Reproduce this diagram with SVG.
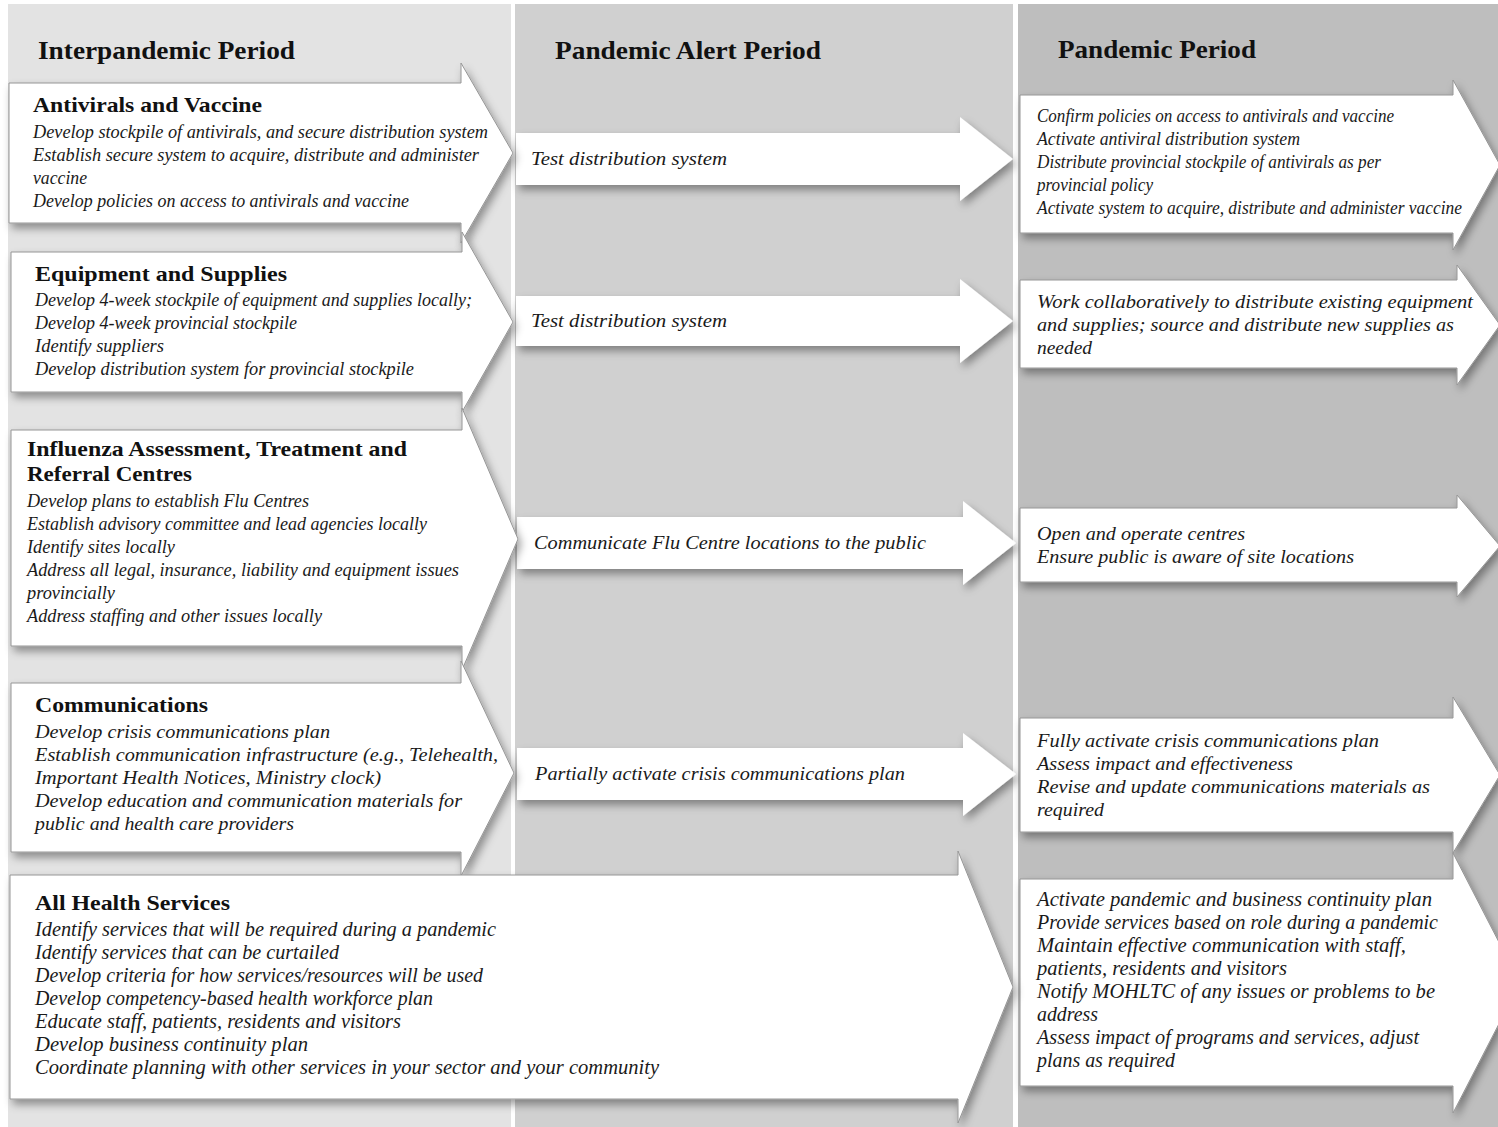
<svg xmlns="http://www.w3.org/2000/svg" width="1498" height="1127" viewBox="0 0 1498 1127">
<defs>
<filter id="sh" x="-10%" y="-20%" width="125%" height="150%">
<feDropShadow dx="3" dy="5" stdDeviation="4" flood-color="#000" flood-opacity="0.38"/>
</filter>
<style>
.col1{fill:#e3e3e3}
.col2{fill:#d0d0d0}
.col3{fill:#bebebe}
.box{fill:#ffffff;stroke:#969696;stroke-width:1;filter:url(#sh)}
.mid{fill:#ffffff;filter:url(#sh)}
.h{font-family:"Liberation Serif",serif;font-weight:bold;font-size:25px;fill:#111}
.t{font-family:"Liberation Serif",serif;font-weight:bold;font-size:21px;fill:#111}
.b{font-family:"Liberation Serif",serif;font-style:italic;font-size:19px;fill:#1a1a1a}
.c{font-family:"Liberation Serif",serif;font-style:italic;font-size:20px;fill:#1a1a1a}
</style>
</defs>
<rect x="0" y="0" width="1498" height="1127" fill="#ffffff"/>
<g id="columns">
<rect class="col1" x="8" y="4" width="503" height="1123"/>
<rect class="col2" x="515" y="4" width="498" height="1123"/>
<rect class="col3" x="1018" y="4" width="480" height="1123"/>
<text class="h" x="38" y="59" textLength="257" lengthAdjust="spacingAndGlyphs">Interpandemic Period</text>
<text class="h" x="555" y="59" textLength="266" lengthAdjust="spacingAndGlyphs">Pandemic Alert Period</text>
<text class="h" x="1058" y="58" textLength="198" lengthAdjust="spacingAndGlyphs">Pandemic Period</text>
</g>

<g id="mid-arrows">
<g id="m1">
<path class="mid" d="M516,133 H960 V117 L1013,159 L960,201 V185 H516 Z"/>
<text class="b" x="531" y="165" textLength="196" lengthAdjust="spacingAndGlyphs">Test distribution system</text>
</g>
<g id="m2">
<path class="mid" d="M516,296 H960 V279 L1013,321 L960,363 V346 H516 Z"/>
<text class="b" x="531" y="327" textLength="196" lengthAdjust="spacingAndGlyphs">Test distribution system</text>
</g>
<g id="m3">
<path class="mid" d="M517,517 H963 V501 L1016,543 L963,585 V569 H517 Z"/>
<text class="b" x="534" y="549" textLength="392" lengthAdjust="spacingAndGlyphs">Communicate Flu Centre locations to the public</text>
</g>
<g id="m4">
<path class="mid" d="M517,748 H963 V733 L1016,774 L963,816 V800 H517 Z"/>
<text class="b" x="535" y="780" textLength="370" lengthAdjust="spacingAndGlyphs">Partially activate crisis communications plan</text>
</g>
</g>

<g id="right-arrows">
<g id="r1">
<path class="box" d="M1020,95 H1453 V80 L1500,165 L1453,250 V233 H1020 Z"/>
<text class="b" x="1037" y="122" textLength="357" lengthAdjust="spacingAndGlyphs">Confirm policies on access to antivirals and vaccine</text>
<text class="b" x="1037" y="145" textLength="263" lengthAdjust="spacingAndGlyphs">Activate antiviral distribution system</text>
<text class="b" x="1037" y="168" textLength="344" lengthAdjust="spacingAndGlyphs">Distribute provincial stockpile of antivirals as per</text>
<text class="b" x="1037" y="191" textLength="116" lengthAdjust="spacingAndGlyphs">provincial policy</text>
<text class="b" x="1037" y="214" textLength="425" lengthAdjust="spacingAndGlyphs">Activate system to acquire, distribute and administer vaccine</text>
</g>
<g id="r2">
<path class="box" d="M1020,280 H1457 V265 L1500,325 L1457,385 V368 H1020 Z"/>
<text class="b" x="1037" y="308" textLength="436" lengthAdjust="spacingAndGlyphs">Work collaboratively to distribute existing equipment</text>
<text class="b" x="1037" y="331" textLength="417" lengthAdjust="spacingAndGlyphs">and supplies; source and distribute new supplies as</text>
<text class="b" x="1037" y="354" textLength="55" lengthAdjust="spacingAndGlyphs">needed</text>
</g>
<g id="r3">
<path class="box" d="M1020,508 H1457 V495 L1500,546 L1457,597 V582 H1020 Z"/>
<text class="b" x="1037" y="540" textLength="208" lengthAdjust="spacingAndGlyphs">Open and operate centres</text>
<text class="b" x="1037" y="563" textLength="317" lengthAdjust="spacingAndGlyphs">Ensure public is aware of site locations</text>
</g>
<g id="r4">
<path class="box" d="M1020,718 H1453 V697 L1500,775 L1453,853 V832 H1020 Z"/>
<text class="b" x="1037" y="747" textLength="342" lengthAdjust="spacingAndGlyphs">Fully activate crisis communications plan</text>
<text class="b" x="1037" y="770" textLength="256" lengthAdjust="spacingAndGlyphs">Assess impact and effectiveness</text>
<text class="b" x="1037" y="793" textLength="393" lengthAdjust="spacingAndGlyphs">Revise and update communications materials as</text>
<text class="b" x="1037" y="816" textLength="67" lengthAdjust="spacingAndGlyphs">required</text>
</g>
<g id="r5">
<path class="box" d="M1020,879 H1453 V853 L1520,983 L1453,1113 V1086 H1020 Z"/>
<text class="c" x="1037" y="906" textLength="395" lengthAdjust="spacingAndGlyphs">Activate pandemic and business continuity plan</text>
<text class="c" x="1037" y="929" textLength="401" lengthAdjust="spacingAndGlyphs">Provide services based on role during a pandemic</text>
<text class="c" x="1037" y="952" textLength="369" lengthAdjust="spacingAndGlyphs">Maintain effective communication with staff,</text>
<text class="c" x="1037" y="975" textLength="250" lengthAdjust="spacingAndGlyphs">patients, residents and visitors</text>
<text class="c" x="1037" y="998" textLength="398" lengthAdjust="spacingAndGlyphs">Notify MOHLTC of any issues or problems to be</text>
<text class="c" x="1037" y="1021" textLength="61" lengthAdjust="spacingAndGlyphs">address</text>
<text class="c" x="1037" y="1044" textLength="382" lengthAdjust="spacingAndGlyphs">Assess impact of programs and services, adjust</text>
<text class="c" x="1037" y="1067" textLength="138" lengthAdjust="spacingAndGlyphs">plans as required</text>
</g>
</g>

<g id="left-arrows">
<g id="a1">
<path class="box" d="M9,83 H461 V63 L513,153 L461,243 V223 H9 Z"/>
<text class="t" x="33" y="112" textLength="229" lengthAdjust="spacingAndGlyphs">Antivirals and Vaccine</text>
<text class="b" x="33" y="138" textLength="455" lengthAdjust="spacingAndGlyphs">Develop stockpile of antivirals, and secure distribution system</text>
<text class="b" x="33" y="161" textLength="446" lengthAdjust="spacingAndGlyphs">Establish secure system to acquire, distribute and administer</text>
<text class="b" x="33" y="184" textLength="54" lengthAdjust="spacingAndGlyphs">vaccine</text>
<text class="b" x="33" y="207" textLength="376" lengthAdjust="spacingAndGlyphs">Develop policies on access to antivirals and vaccine</text>
</g>
<g id="a2">
<path class="box" d="M11,252 H462 V232 L513,322 L462,412 V392 H11 Z"/>
<text class="t" x="35" y="281" textLength="252" lengthAdjust="spacingAndGlyphs">Equipment and Supplies</text>
<text class="b" x="35" y="306" textLength="437" lengthAdjust="spacingAndGlyphs">Develop 4-week stockpile of equipment and supplies locally;</text>
<text class="b" x="35" y="329" textLength="262" lengthAdjust="spacingAndGlyphs">Develop 4-week provincial stockpile</text>
<text class="b" x="35" y="352" textLength="129" lengthAdjust="spacingAndGlyphs">Identify suppliers</text>
<text class="b" x="35" y="375" textLength="379" lengthAdjust="spacingAndGlyphs">Develop distribution system for provincial stockpile</text>
</g>
<g id="a3">
<path class="box" d="M11,430 H462 V408 L518,539 L462,670 V646 H11 Z"/>
<text class="t" x="27" y="456" textLength="380" lengthAdjust="spacingAndGlyphs">Influenza Assessment, Treatment and</text>
<text class="t" x="27" y="481" textLength="165" lengthAdjust="spacingAndGlyphs">Referral Centres</text>
<text class="b" x="27" y="507" textLength="282" lengthAdjust="spacingAndGlyphs">Develop plans to establish Flu Centres</text>
<text class="b" x="27" y="530" textLength="400" lengthAdjust="spacingAndGlyphs">Establish advisory committee and lead agencies locally</text>
<text class="b" x="27" y="553" textLength="148" lengthAdjust="spacingAndGlyphs">Identify sites locally</text>
<text class="b" x="27" y="576" textLength="432" lengthAdjust="spacingAndGlyphs">Address all legal, insurance, liability and equipment issues</text>
<text class="b" x="27" y="599" textLength="88" lengthAdjust="spacingAndGlyphs">provincially</text>
<text class="b" x="27" y="622" textLength="295" lengthAdjust="spacingAndGlyphs">Address staffing and other issues locally</text>
</g>
<g id="a4">
<path class="box" d="M11,683 H461 V661 L514,773 L461,876 V852 H11 Z"/>
<text class="t" x="35" y="712" textLength="173" lengthAdjust="spacingAndGlyphs">Communications</text>
<text class="b" x="35" y="738" textLength="295" lengthAdjust="spacingAndGlyphs">Develop crisis communications plan</text>
<text class="b" x="35" y="761" textLength="463" lengthAdjust="spacingAndGlyphs">Establish communication infrastructure (e.g., Telehealth,</text>
<text class="b" x="35" y="784" textLength="346" lengthAdjust="spacingAndGlyphs">Important Health Notices, Ministry clock)</text>
<text class="b" x="35" y="807" textLength="427" lengthAdjust="spacingAndGlyphs">Develop education and communication materials for</text>
<text class="b" x="35" y="830" textLength="259" lengthAdjust="spacingAndGlyphs">public and health care providers</text>
</g>
<g id="a5">
<path class="box" d="M10,875 H958 V851 L1013,987 L958,1123 V1099 H10 Z"/>
<text class="t" x="35" y="910" textLength="195" lengthAdjust="spacingAndGlyphs">All Health Services</text>
<text class="c" x="35" y="936" textLength="461" lengthAdjust="spacingAndGlyphs">Identify services that will be required during a pandemic</text>
<text class="c" x="35" y="959" textLength="304" lengthAdjust="spacingAndGlyphs">Identify services that can be curtailed</text>
<text class="c" x="35" y="982" textLength="448" lengthAdjust="spacingAndGlyphs">Develop criteria for how services/resources will be used</text>
<text class="c" x="35" y="1005" textLength="398" lengthAdjust="spacingAndGlyphs">Develop competency-based health workforce plan</text>
<text class="c" x="35" y="1028" textLength="366" lengthAdjust="spacingAndGlyphs">Educate staff, patients, residents and visitors</text>
<text class="c" x="35" y="1051" textLength="273" lengthAdjust="spacingAndGlyphs">Develop business continuity plan</text>
<text class="c" x="35" y="1074" textLength="624" lengthAdjust="spacingAndGlyphs">Coordinate planning with other services in your sector and your community</text>
</g>
</g>
</svg>
